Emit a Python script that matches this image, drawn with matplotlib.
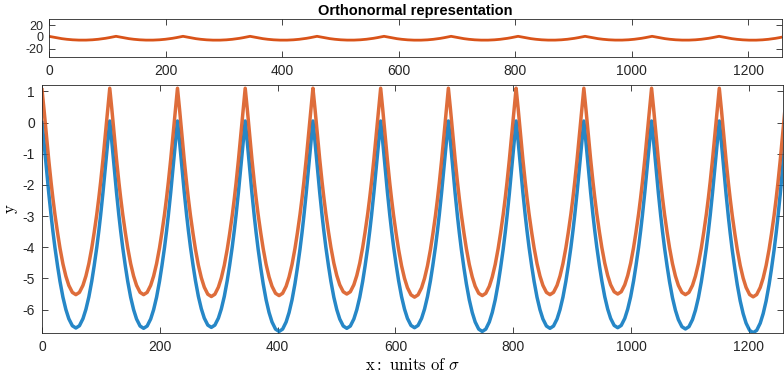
import numpy as np
import matplotlib.pyplot as plt

plt.rcParams['font.family'] = ['Liberation Sans', 'DejaVu Sans']
plt.rcParams['mathtext.fontset'] = 'cm'
plt.rcParams['axes.unicode_minus'] = False

# cusp positions (x) and the values at the cusps
peak_x = [0, 115, 230, 345, 460, 575, 690, 805, 920, 1035, 1150, 1265]
blue_peak = [0.0, 0.05, 0.05, 0.05, 0.05, 0.05, 0.05, 0.05, 0.05, 0.05, 0.05, 0.05]
orange_peak = [1.05, 1.1, 1.1, 1.1, 1.1, 1.1, 1.1, 1.1, 1.1, 1.1, 1.1, 1.1]
# bottom of each arch
blue_min = [-6.59, -6.6, -6.57, -6.7, -6.6, -6.58, -6.7, -6.6, -6.58, -6.62, -6.74]
orange_min = [-5.52, -5.52, -5.58, -5.55, -5.5, -5.6, -5.55, -5.52, -5.5, -5.52, -5.59]
# arch shape: distance from bottom -> fraction of depth
arch_offset = [0, 6, 12, 17, 22, 27, 31, 35.5, 39, 42, 46, 50, 54, 57.5]
arch_rel = [0, 0.011, 0.045, 0.09, 0.15, 0.227, 0.30, 0.39, 0.47, 0.545, 0.655, 0.775, 0.9, 1.0]


def build(peaks, mins):
    xs, ys = [], []
    for i in range(len(mins)):
        c = (peak_x[i] + peak_x[i + 1]) / 2
        half = (peak_x[i + 1] - peak_x[i]) / 2
        for d, r in zip(arch_offset[::-1], arch_rel[::-1]):
            xs.append(c - d * half / 57.5)
            ys.append(mins[i] + r * (peaks[i] - mins[i]))
        for d, r in zip(arch_offset[1:], arch_rel[1:]):
            xs.append(c + d * half / 57.5)
            ys.append(mins[i] + r * (peaks[i + 1] - mins[i]))
    return xs, ys


bx, by = build(blue_peak, blue_min)
ox, oy = build(orange_peak, orange_min)

blue = '#0072BD'
orange = '#D95319'
axcol = '#262626'

fig = plt.figure(figsize=(7.84, 3.75), dpi=100)
ax1 = fig.add_axes([0.0625, 0.847, 0.935, 0.102])
ax2 = fig.add_axes([0.0536, 0.112, 0.945, 0.661])


def style(ax, size=10):
    for s in ax.spines.values():
        s.set_color(axcol)
        s.set_linewidth(0.6)
    ax.tick_params(direction='in', top=True, right=True, length=4.5, width=0.6,
                   colors=axcol, labelsize=size, pad=5)


ax1.plot(ox, oy, color=orange, lw=2.0)
ax1.set_xlim(0, 1258)
ax1.set_ylim(-35.3, 30.8)
ax1.set_xticks(range(0, 1201, 200))
ax1.set_yticks([-20, 0, 20])
ax1.set_title('Orthonormal representation', fontsize=10.5, fontweight='bold', pad=3)
style(ax1)
ax1.tick_params(axis='y', labelsize=9, pad=4)

ax2.plot(bx, by, color=blue, lw=2.5, alpha=0.85, solid_joinstyle='round')
ax2.plot(ox, oy, color=orange, lw=2.5, alpha=0.85, solid_joinstyle='round')
ax2.set_xlim(0, 1258)
ax2.set_ylim(-6.75, 1.2)
ax2.set_xticks(range(0, 1201, 200))
ax2.set_yticks(range(-6, 2))
ax2.set_xlabel(r'$\mathrm{x{:}\ units\ of}\ \sigma$', fontsize=12, labelpad=2)
ax2.set_ylabel(r'$\mathrm{y}$', fontsize=12)
ax2.yaxis.set_label_coords(-0.03, 0.5)
style(ax2)

fig.savefig('out.png', dpi=100)
